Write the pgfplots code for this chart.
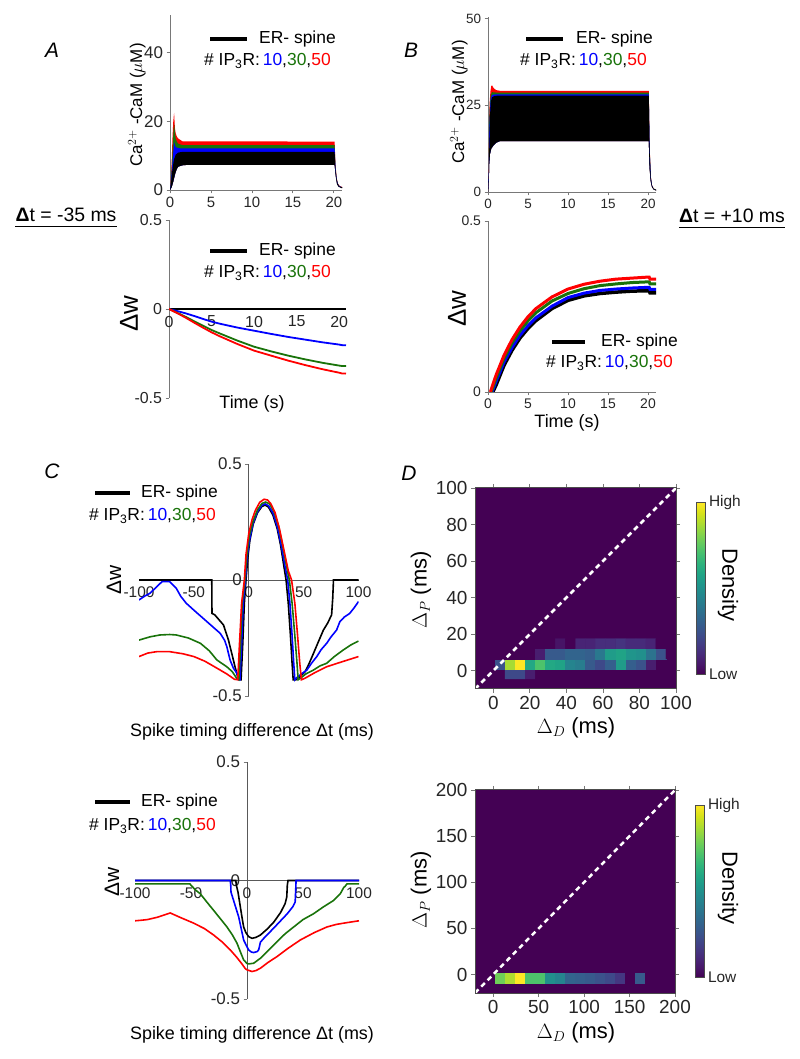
\documentclass[border=0pt]{standalone}
\usepackage{pgfplots}
\pgfplotsset{compat=1.18}
\usepackage{fontspec}
\setmainfont{Liberation Sans}
\definecolor{mygreen}{RGB}{25,115,10}
\definecolor{axgray}{RGB}{120,120,120}
\definecolor{vbg}{RGB}{68,1,84}
\newcommand{\fs}[1]{\fontsize{#1}{#1}\selectfont}
\newcommand{\ipr}{\# IP\textsubscript{3}R:\,\textcolor{blue}{10},\textcolor{mygreen}{30},\textcolor{red}{50}}
\pgfplotsset{
  ts/.style={
    scale only axis, anchor=south west,
    axis line style={-, axgray, line width=0.8bp},
    tick style={axgray, line width=0.8bp}, tick align=outside, major tick length=3.5bp,
    ticklabel style={text=black!85},
    /pgf/number format/assume math mode=true,
    hide obscured x ticks=false, hide obscured y ticks=false,
  },
  hm/.style={
    scale only axis, anchor=south west,
    axis on top, axis background/.style={fill=vbg},
    axis line style={black!70, line width=1bp},
    tick style={axgray, line width=0.8bp}, tick align=outside, major tick length=4bp,
    ticklabel style={font=\fs{19}, text=black!85},
    /pgf/number format/assume math mode=true,
    colormap/viridis, point meta min=0, point meta max=1,
    colorbar,
    colorbar style={scale only axis, at={(parent axis.east)}, anchor=west, xshift=12bp,
      width=9bp, height=172bp, ytick={0,1}, yticklabels={Low,High},
      ytick style={draw=none}, axis line style={black!70, line width=1bp},
      yticklabel style={font=\fs{15.5}, text=black!85}},
  },
}
\begin{document}
\begin{tikzpicture}
\useasboundingbox (0,0) rectangle (800bp,1059bp);

% ---------------- A top
\begin{axis}[ts, axis lines*=left, at={(170bp,869bp)}, width=172bp, height=175bp,
  xmin=0, xmax=21, ymin=0, ymax=51, xtick={0,5,10,15,20}, ytick={0,20,40},
  xticklabel style={font=\fs{15}}, yticklabel style={font=\fs{17}}]
\addplot[fill=red, draw=none] coordinates {(0,0)(0.1,3)(0.2,8)(0.3,15)(0.4,20)(0.5,22.5)(0.6,18)(0.7,16.5)(0.85,15.5)(1,15)(1.5,14.2)(20.1,14.1)(20.2,7.5)(20.35,3.5)(20.5,1.9)(20.7,1.2)(21,0.9)
 (21,0.6)(20.6,1)(20.4,1.8)(20.25,4)(20.1,7.3)(2,7.3)(1.5,7.2)(1,6.8)(0.8,6)(0.6,4.5)(0.4,2.5)(0.2,0.8)(0,0)};
\addplot[fill=mygreen, draw=none] coordinates {(0,0)(0.1,2.5)(0.2,6)(0.3,11)(0.4,16)(0.5,19.5)(0.6,17)(0.7,15)(0.85,14)(1,13.5)(1.5,13.1)(20.1,13.1)(20.2,7)(20.35,3.3)(20.5,1.8)(20.7,1.1)(21,0.8)
 (21,0.6)(20.6,1)(20.4,1.8)(20.25,4)(20.1,7.3)(2,7.3)(1.5,7.2)(1,6.8)(0.8,6)(0.6,4.5)(0.4,2.5)(0.2,0.8)(0,0)};
\addplot[fill=blue, draw=none] coordinates {(0,0)(0.1,2)(0.2,5)(0.3,8)(0.4,11)(0.5,14)(0.6,13)(0.7,12.5)(1,12.2)(1.5,12.1)(20.1,12.1)(20.2,6.5)(20.35,3.2)(20.5,1.7)(20.7,1.1)(21,0.8)
 (21,0.6)(20.6,1)(20.4,1.8)(20.25,4)(20.1,7.3)(2,7.3)(1.5,7.2)(1,6.8)(0.8,6)(0.6,4.5)(0.4,2.5)(0.2,0.8)(0,0)};
\addplot[fill=black, draw=none] coordinates {(0,0)(0.1,1.5)(0.2,4)(0.35,7)(0.5,9)(0.7,10.3)(1,10.9)(1.5,11.1)(20.1,11.1)(20.2,6)(20.35,3)(20.5,1.6)(20.7,1)(21,0.8)
 (21,0.5)(20.6,0.9)(20.4,1.6)(20.25,3.6)(20.1,7.3)(2,7.3)(1.5,7.2)(1,6.8)(0.8,6)(0.6,4.5)(0.4,2.5)(0.2,0.8)(0,0)};
\end{axis}

% ---------------- A bottom
\begin{axis}[ts, axis x line*=middle, axis y line*=left, at={(169bp,661bp)}, width=177bp, height=178bp,
  xmin=0, xmax=20.8, ymin=-0.5, ymax=0.5, xtick={0,5,10,15,20}, ytick={-0.5,0,0.5},
  x tick style={draw=none}, xticklabel style={font=\fs{16}}, yticklabel style={font=\fs{16}}]
\addplot[black, line width=1.8bp] coordinates {(0,0)(20.8,0)};
\addplot[blue, line width=1.8bp] coordinates {(0,0)(1,-0.012)(2,-0.025)(3,-0.04)(4,-0.056)(5,-0.071)(6,-0.083)(8,-0.104)(10,-0.122)(12,-0.14)(14,-0.157)(16,-0.172)(18,-0.187)(20,-0.2)(20.3,-0.203)(20.8,-0.204)};
\addplot[mygreen, line width=1.8bp] coordinates {(0,0)(1,-0.022)(2,-0.045)(3,-0.07)(4,-0.094)(5,-0.118)(6,-0.138)(8,-0.177)(10,-0.212)(12,-0.238)(14,-0.262)(16,-0.283)(18,-0.302)(20,-0.318)(20.3,-0.32)(20.8,-0.32)};
\addplot[red, line width=1.8bp] coordinates {(0,0)(1,-0.024)(2,-0.05)(3,-0.078)(4,-0.105)(5,-0.131)(6,-0.154)(8,-0.196)(10,-0.234)(12,-0.262)(14,-0.29)(16,-0.315)(18,-0.338)(20,-0.358)(20.3,-0.362)(20.8,-0.363)};
\end{axis}

% ---------------- B top
\begin{axis}[ts, axis lines*=left, at={(488bp,867bp)}, width=168bp, height=175bp,
  xmin=0, xmax=21, ymin=0, ymax=50.5, xtick={0,5,10,15,20}, ytick={0,25,50},
  ticklabel style={font=\fs{13.5}}]
\addplot[fill=red, draw=none] coordinates {(0,0)(0.1,7)(0.15,22)(0.2,25.5)(0.3,29)(0.4,30.5)(0.5,30.8)(0.7,30)(1,29.4)(1.5,29.2)(20.1,29.2)(20.2,13.5)(20.35,4.5)(20.5,2)(20.7,1)(21,0.7)
 (21,0.5)(20.7,0.8)(20.5,1.5)(20.35,3)(20.2,7)(20.1,14.7)(1.5,14.7)(1,14.2)(0.7,13.5)(0.4,12.5)(0.25,11)(0.15,8)(0.1,3)(0,0)};
\addplot[fill=mygreen, draw=none] coordinates {(0,0)(0.1,6)(0.15,20)(0.25,26)(0.35,28)(0.5,28.8)(1,28.7)(20.1,28.7)(20.2,13)(20.35,4.3)(20.5,1.9)(20.7,1)(21,0.7)
 (21,0.5)(20.7,0.8)(20.5,1.5)(20.35,3)(20.2,7)(20.1,14.7)(1.5,14.7)(1,14.2)(0.7,13.5)(0.4,12.5)(0.25,11)(0.15,8)(0.1,3)(0,0)};
\addplot[fill=blue, draw=none] coordinates {(0,0)(0.1,6)(0.15,17)(0.25,24)(0.35,27)(0.5,28)(1,28.2)(20.1,28.2)(20.2,12.5)(20.35,4.2)(20.5,1.9)(20.7,0.9)(21,0.6)
 (21,0.5)(20.7,0.8)(20.5,1.5)(20.35,3)(20.2,7)(20.1,14.7)(1.5,14.7)(1,14.2)(0.7,13.5)(0.4,12.5)(0.25,11)(0.15,8)(0.1,3)(0,0)};
\addplot[fill=black, draw=none] coordinates {(0,0)(0.1,5)(0.15,12)(0.25,22)(0.35,26)(0.5,27.3)(0.8,27.7)(1.2,27.8)(20.1,27.8)(20.2,12)(20.35,4)(20.5,1.8)(20.7,0.9)(21,0.6)
 (21,0.4)(20.7,0.7)(20.5,1.4)(20.35,2.8)(20.2,6.5)(20.1,14.7)(1.5,14.7)(1,14.2)(0.7,13.5)(0.4,12.5)(0.25,11)(0.15,8)(0.1,3)(0,0)};
\end{axis}

% ---------------- B bottom
\begin{axis}[ts, axis lines*=left, at={(488bp,667bp)}, width=168bp, height=171bp,
  xmin=0, xmax=21, ymin=0, ymax=0.5, xtick={0,5,10,15,20}, ytick={0,0.5},
  ticklabel style={font=\fs{14}}]
\addplot[black, line width=3.5bp] coordinates {(0.6,0)(1,0.02)(2,0.078)(3,0.122)(4,0.158)(5,0.186)(6,0.209)(8,0.244)(10,0.268)(12,0.281)(14,0.288)(16,0.292)(18,0.295)(20,0.296)(20.15,0.296)(20.25,0.29)(21,0.29)};
\addplot[blue, line width=3bp] coordinates {(0.5,0)(1,0.03)(2,0.087)(3,0.13)(4,0.166)(5,0.194)(6,0.217)(8,0.251)(10,0.276)(12,0.289)(14,0.297)(16,0.301)(18,0.304)(20,0.306)(20.15,0.306)(20.25,0.3)(21,0.3)};
\addplot[mygreen, line width=3bp] coordinates {(0.4,0)(1,0.04)(2,0.098)(3,0.143)(4,0.179)(5,0.208)(6,0.232)(8,0.266)(10,0.288)(12,0.302)(14,0.311)(16,0.316)(18,0.32)(20,0.322)(20.15,0.322)(20.25,0.316)(21,0.316)};
\addplot[red, line width=3bp] coordinates {(0.3,0)(1,0.049)(2,0.107)(3,0.153)(4,0.19)(5,0.22)(6,0.244)(8,0.278)(10,0.301)(12,0.315)(14,0.324)(16,0.33)(18,0.333)(20,0.336)(20.15,0.336)(20.25,0.33)(21,0.33)};
\end{axis}

% ---------------- C top
\begin{axis}[ts, axis lines*=middle, at={(139bp,363bp)}, width=219.5bp, height=232bp,
  xmin=-100, xmax=100, ymin=-0.5, ymax=0.5, xtick={-100,-50,0,50,100}, ytick={-0.5,0,0.5},
  x tick style={draw=none}, xticklabel style={font=\fs{15.5}}, yticklabel style={font=\fs{17}},
  axis line style={-, black!65, line width=0.9bp}]
\addplot[black, line width=1.6bp] coordinates {(-100,0)(-33.7,0)(-33.5,-0.144)(-31,-0.15)(-23,-0.194)(-18.5,-0.259)(-15.5,-0.316)(-12.5,-0.374)(-9.5,-0.428)
 (-7,-0.43)(-5.5,-0.28)(-4,-0.1)(-2.5,0)(-1,0.09)(1,0.17)(4,0.24)(8,0.29)(12,0.317)(15,0.323)(18,0.314)(22,0.28)(26,0.22)(29,0.15)(32,0.06)(34,0)(36,-0.1)(38,-0.24)(39.5,-0.36)(40.5,-0.43)
 (43,-0.43)(47,-0.415)(51.4,-0.395)(55,-0.36)(59,-0.316)(64,-0.26)(68,-0.216)(72,-0.185)(75.5,-0.15)(76.5,-0.08)(77.2,0)(100,0)};
\addplot[blue, line width=1.6bp] coordinates {(-100,-0.086)(-95,-0.07)(-90,-0.057)(-84,-0.03)(-79,-0.007)(-72,-0.007)(-66,-0.036)(-62,-0.07)(-57,-0.1)(-50,-0.13)(-44,-0.155)(-38,-0.18)(-32,-0.205)(-26,-0.23)(-22,-0.26)(-20,-0.287)(-17,-0.345)(-14,-0.38)(-11,-0.40)(-9,-0.43)
 (-8,-0.43)(-6.5,-0.28)(-5,-0.1)(-3,0)(-1.5,0.1)(1,0.18)(4,0.245)(8,0.295)(12,0.322)(15,0.328)(18,0.32)(22,0.29)(26,0.23)(30,0.14)(33,0.06)(35.5,0)(37.5,-0.1)(39.5,-0.24)(41,-0.36)(42,-0.43)
 (44,-0.42)(48,-0.405)(53,-0.388)(57,-0.36)(62,-0.33)(66,-0.3)(71,-0.273)(75,-0.245)(80,-0.216)(83,-0.18)(87,-0.16)(92,-0.144)(96,-0.12)(100,-0.093)};
\addplot[mygreen, line width=1.6bp] coordinates {(-100,-0.259)(-90,-0.245)(-81,-0.237)(-72,-0.235)(-66,-0.237)(-55,-0.25)(-44,-0.273)(-36,-0.305)(-29,-0.345)(-20,-0.374)(-15,-0.395)(-11,-0.424)
 (-9,-0.43)(-7.5,-0.28)(-6,-0.1)(-3.5,0)(-2,0.1)(0.5,0.19)(4,0.255)(8,0.303)(12,0.33)(15.5,0.336)(19,0.328)(23,0.295)(27,0.235)(31,0.145)(34,0.07)(37,0)(39.5,-0.1)(42,-0.24)(44,-0.36)(45,-0.43)
 (47,-0.424)(52,-0.405)(59,-0.388)(65,-0.37)(71,-0.359)(78,-0.33)(86,-0.302)(93,-0.28)(100,-0.263)};
\addplot[red, line width=1.6bp] coordinates {(-100,-0.33)(-92,-0.315)(-84,-0.309)(-72,-0.309)(-60,-0.318)(-50,-0.33)(-40,-0.35)(-29,-0.38)(-20,-0.405)(-13,-0.428)
 (-10,-0.43)(-8.5,-0.28)(-6.5,-0.1)(-4,0)(-2.5,0.11)(0,0.2)(3,0.26)(6,0.3)(10,0.335)(14,0.348)(17,0.345)(20,0.33)(24,0.29)(28,0.22)(32,0.13)(36,0.04)(39,0)(42,-0.1)(44.5,-0.24)(46.5,-0.36)(48,-0.43)
 (51,-0.424)(60,-0.4)(71,-0.374)(80,-0.36)(90,-0.345)(100,-0.33)};
\end{axis}

% ---------------- C bottom
\begin{axis}[ts, axis lines*=middle, at={(135bp,60bp)}, width=224bp, height=237bp,
  xmin=-100, xmax=100, ymin=-0.5, ymax=0.5, xtick={-100,-50,0,50,100}, ytick={-0.5,0,0.5},
  x tick style={draw=none}, xticklabel style={font=\fs{15.5}}, yticklabel style={font=\fs{17}},
  axis line style={-, black!65, line width=0.9bp}]
\addplot[black, line width=1.6bp] coordinates {(-100,0)(-10,0)(-9.5,-0.02)(-8,-0.05)(-6,-0.11)(-4.5,-0.154)(-3,-0.196)(-1,-0.22)(1.5,-0.237)(4.5,-0.244)(8,-0.24)(12,-0.23)(18,-0.205)(24,-0.175)(30,-0.135)(34,-0.098)(35.5,-0.07)(36,-0.02)(36.6,0)(100,0)};
\addplot[blue, line width=1.6bp] coordinates {(-100,0)(-15,0)(-14.5,-0.02)(-14.3,-0.049)(-12,-0.084)(-7.4,-0.154)(-3,-0.251)(0,-0.28)(1.5,-0.293)(4,-0.302)(6,-0.304)(9,-0.3)(10.4,-0.293)(12,-0.26)(15,-0.244)(24,-0.2)(30,-0.17)(36,-0.14)(41,-0.11)(43,-0.091)(43.5,-0.04)(43.8,0)(100,0)};
\addplot[mygreen, line width=1.6bp] coordinates {(-100,-0.014)(-51,-0.014)(-50,-0.02)(-46,-0.04)(-41.7,-0.056)(-36,-0.09)(-29.8,-0.126)(-24,-0.16)(-17.9,-0.196)(-13,-0.23)(-8.9,-0.265)(-6,-0.3)(-3,-0.335)(0,-0.35)(1.5,-0.352)(6,-0.349)(12,-0.328)(19,-0.295)(26.8,-0.258)(34,-0.225)(41.7,-0.196)(50,-0.165)(59.5,-0.14)(68,-0.112)(77.4,-0.084)(83.3,-0.056)(86.3,-0.03)(87.5,-0.025)(89.3,-0.014)(100,-0.014)};
\addplot[red, line width=1.6bp] coordinates {(-100,-0.17)(-95,-0.168)(-89,-0.165)(-80,-0.155)(-68.5,-0.137)(-60,-0.155)(-47.6,-0.18)(-38,-0.203)(-29.8,-0.23)(-22,-0.26)(-14.9,-0.293)(-9,-0.325)(-4.5,-0.352)(-1.5,-0.372)(0,-0.377)(4.5,-0.384)(8,-0.38)(12,-0.37)(19,-0.345)(26.8,-0.321)(37,-0.285)(47.6,-0.251)(60,-0.22)(71.4,-0.196)(80,-0.185)(86.3,-0.18)(93,-0.175)(100,-0.17)};
\end{axis}

% ---------------- D top
\begin{axis}[hm, at={(475bp,370bp)}, width=201bp, height=201bp,
  xmin=-10, xmax=100, ymin=-10, ymax=100, xtick={0,20,...,100}, ytick={0,20,...,100}]
\addplot[matrix plot*, mesh/cols=20, point meta=explicit] coordinates {
(-7.25,-1.75)[0] (-1.75,-1.75)[0] (3.75,-1.75)[0] (9.25,-1.75)[0.22] (14.75,-1.75)[0.22] (20.25,-1.75)[0.08] (25.75,-1.75)[0] (31.25,-1.75)[0] (36.75,-1.75)[0] (42.25,-1.75)[0] (47.75,-1.75)[0] (53.25,-1.75)[0] (58.75,-1.75)[0] (64.25,-1.75)[0] (69.75,-1.75)[0] (75.25,-1.75)[0] (80.75,-1.75)[0] (86.25,-1.75)[0] (91.75,-1.75)[0] (97.25,-1.75)[0]
(-7.25,3.75)[0] (-1.75,3.75)[0] (3.75,3.75)[0.25] (9.25,3.75)[0.87] (14.75,3.75)[1] (20.25,3.75)[0.6] (25.75,3.75)[0.72] (31.25,3.75)[0.6] (36.75,3.75)[0.58] (42.25,3.75)[0.45] (47.75,3.75)[0.42] (53.25,3.75)[0.28] (58.75,3.75)[0.22] (64.25,3.75)[0.3] (69.75,3.75)[0.55] (75.25,3.75)[0.3] (80.75,3.75)[0.25] (86.25,3.75)[0.08] (91.75,3.75)[0] (97.25,3.75)[0]
(-7.25,9.25)[0] (-1.75,9.25)[0] (3.75,9.25)[0] (9.25,9.25)[0] (14.75,9.25)[0] (20.25,9.25)[0] (25.75,9.25)[0.08] (31.25,9.25)[0.28] (36.75,9.25)[0.28] (42.25,9.25)[0.32] (47.75,9.25)[0.32] (53.25,9.25)[0.3] (58.75,9.25)[0.4] (64.25,9.25)[0.55] (69.75,9.25)[0.58] (75.25,9.25)[0.52] (80.75,9.25)[0.5] (86.25,9.25)[0.38] (91.75,9.25)[0.25] (97.25,9.25)[0]
(-7.25,14.75)[0] (-1.75,14.75)[0] (3.75,14.75)[0] (9.25,14.75)[0] (14.75,14.75)[0] (20.25,14.75)[0] (25.75,14.75)[0] (31.25,14.75)[0] (36.75,14.75)[0.05] (42.25,14.75)[0] (47.75,14.75)[0.1] (53.25,14.75)[0.1] (58.75,14.75)[0.13] (64.25,14.75)[0.13] (69.75,14.75)[0.15] (75.25,14.75)[0.12] (80.75,14.75)[0.12] (86.25,14.75)[0.1] (91.75,14.75)[0] (97.25,14.75)[0]
};
\addplot[white, line width=2.5bp, dash pattern=on 5bp off 4bp] coordinates {(-10,-10)(100,100)};
\end{axis}

% ---------------- D bottom
\begin{axis}[hm, at={(475bp,66bp)}, width=200bp, height=203bp,
  xmin=-20, xmax=200, ymin=-20, ymax=200, xtick={0,50,...,200}, ytick={0,50,...,200}]
\addplot[matrix plot*, mesh/cols=20, point meta=explicit] coordinates {
(-14.5,-14.5)[0] (-3.5,-14.5)[0] (7.5,-14.5)[0] (18.5,-14.5)[0] (29.5,-14.5)[0] (40.5,-14.5)[0] (51.5,-14.5)[0] (62.5,-14.5)[0] (73.5,-14.5)[0] (84.5,-14.5)[0] (95.5,-14.5)[0] (106.5,-14.5)[0] (117.5,-14.5)[0] (128.5,-14.5)[0] (139.5,-14.5)[0] (150.5,-14.5)[0] (161.5,-14.5)[0] (172.5,-14.5)[0] (183.5,-14.5)[0] (194.5,-14.5)[0]
(-14.5,-3.5)[0] (-3.5,-3.5)[0] (7.5,-3.5)[0.78] (18.5,-3.5)[0.88] (29.5,-3.5)[1] (40.5,-3.5)[0.72] (51.5,-3.5)[0.72] (62.5,-3.5)[0.5] (73.5,-3.5)[0.45] (84.5,-3.5)[0.32] (95.5,-3.5)[0.3] (106.5,-3.5)[0.28] (117.5,-3.5)[0.25] (128.5,-3.5)[0.22] (139.5,-3.5)[0.16] (150.5,-3.5)[0] (161.5,-3.5)[0.28] (172.5,-3.5)[0] (183.5,-3.5)[0] (194.5,-3.5)[0]
(-14.5,7.5)[0] (-3.5,7.5)[0] (7.5,7.5)[0] (18.5,7.5)[0] (29.5,7.5)[0] (40.5,7.5)[0] (51.5,7.5)[0] (62.5,7.5)[0] (73.5,7.5)[0] (84.5,7.5)[0] (95.5,7.5)[0] (106.5,7.5)[0] (117.5,7.5)[0] (128.5,7.5)[0] (139.5,7.5)[0] (150.5,7.5)[0] (161.5,7.5)[0] (172.5,7.5)[0] (183.5,7.5)[0] (194.5,7.5)[0]
};
\addplot[white, line width=2.5bp, dash pattern=on 5bp off 4bp] coordinates {(-20,-20)(200,200)};
\end{axis}

% ---------------- texts
\begin{scope}[every node/.style={inner sep=0pt}]
% panel letters
\node[font=\fs{21}\itshape] at (52bp,1009bp) {A};
\node[font=\fs{21}\itshape] at (411bp,1009bp) {B};
\node[font=\fs{21}\itshape] at (52bp,588bp) {C};
\node[font=\fs{21}\itshape] at (409bp,586bp) {D};
% legends
\draw[line width=3.5bp] (210bp,1020bp) -- (247bp,1020bp);
\node[anchor=west, font=\fs{17.5}] at (259bp,1020bp) {ER- spine};
\node[anchor=west, font=\fs{17.5}] at (204bp,998bp) {\ipr};
\draw[line width=3.5bp] (210bp,808bp) -- (247bp,808bp);
\node[anchor=west, font=\fs{17.5}] at (259bp,808bp) {ER- spine};
\node[anchor=west, font=\fs{17.5}] at (204bp,786bp) {\ipr};
\draw[line width=3.5bp] (526bp,1020bp) -- (563bp,1020bp);
\node[anchor=west, font=\fs{17.5}] at (576bp,1020bp) {ER- spine};
\node[anchor=west, font=\fs{17.5}] at (520bp,998bp) {\ipr};
\draw[line width=3.5bp] (552bp,717bp) -- (585bp,717bp);
\node[anchor=west, font=\fs{17.5}] at (601bp,717bp) {ER- spine};
\node[anchor=west, font=\fs{17.5}] at (546bp,696bp) {\ipr};
\draw[line width=3.5bp] (95bp,566bp) -- (130bp,566bp);
\node[anchor=west, font=\fs{17.5}] at (141bp,566bp) {ER- spine};
\node[anchor=west, font=\fs{17.5}] at (89bp,543bp) {\ipr};
\draw[line width=3.5bp] (95bp,257bp) -- (130bp,257bp);
\node[anchor=west, font=\fs{17.5}] at (141bp,257bp) {ER- spine};
\node[anchor=west, font=\fs{17.5}] at (89bp,233bp) {\ipr};
% axis labels A/B
\node[rotate=90, font=\fs{17}] at (137bp,954bp) {Ca$^{2+}$ -CaM ($\mu$M)};
\node[rotate=90, font=\fs{17}] at (459bp,957bp) {Ca$^{2+}$ -CaM ($\mu$M)};
\node[rotate=90, font=\fs{26}] at (129bp,745bp) {Δw};
\node[rotate=90, font=\fs{26}] at (457bp,750bp) {Δw};
\node[font=\fs{18}] at (252bp,655bp) {Time (s)};
\node[font=\fs{18}] at (567bp,636bp) {Time (s)};
% C labels
\node[rotate=90, font=\fs{21}] at (114bp,479bp) {Δw};
\node[rotate=90, font=\fs{21}] at (112bp,177bp) {Δw};
\node[font=\fs{18}] at (252bp,327bp) {Spike timing difference Δt (ms)};
\node[font=\fs{18}] at (252bp,24bp) {Spike timing difference Δt (ms)};
% delta t labels
\node[anchor=base, font=\fs{19.5}] (dt1) at (66bp,837bp) {\textbf{Δ}t = -35 ms};
\draw[line width=1.3bp] ([yshift=-4.5bp]dt1.base west) -- ([yshift=-4.5bp]dt1.base east);
\node[anchor=base, font=\fs{19.5}] (dt2) at (732bp,836bp) {\textbf{Δ}t = +10 ms};
\draw[line width=1.3bp] ([yshift=-4.5bp]dt2.base west) -- ([yshift=-4.5bp]dt2.base east);
% D labels
\node[rotate=90, font=\fs{22}] at (421bp,469bp) {$\Delta_P$ (ms)};
\node[rotate=90, font=\fs{22}] at (421bp,169bp) {$\Delta_P$ (ms)};
\node[font=\fs{22}] at (576bp,331bp) {$\Delta_D$ (ms)};
\node[font=\fs{22}] at (576bp,26bp) {$\Delta_D$ (ms)};
\node[rotate=-90, font=\fs{22}] at (728bp,474bp) {Density};
\node[rotate=-90, font=\fs{22}] at (728bp,171bp) {Density};
\end{scope}
\end{tikzpicture}
\end{document}
